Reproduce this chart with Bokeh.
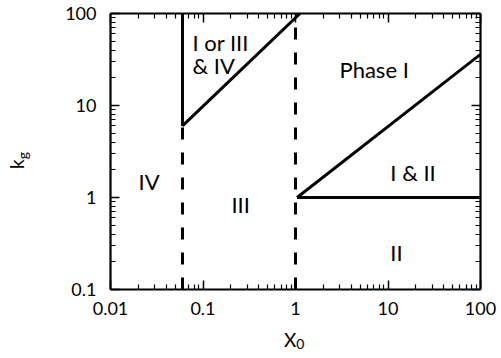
from bokeh.plotting import figure
from bokeh.models import LogAxis, FixedTicker, Range1d, Div
from bokeh.layouts import row, column
from bokeh.core.properties import value
from bokeh.embed import file_html
from bokeh.resources import INLINE

# ---- data ----
x_ticks = [0.01, 0.1, 1, 10, 100]
x_tick_labels = ["0.01", "0.1", "1", "10", "100"]
y_ticks = [0.1, 1, 10, 100]
y_tick_labels = ["0.1", "1", "10", "100"]

solid_vert_x = [0.06, 0.06]
solid_vert_y = [6, 100]
diag_upper_x = [0.06, 1.12]
diag_upper_y = [6, 100]
dash_left_x = [0.06, 0.06]
dash_left_y = [0.1, 6]
dash_right_x = [1, 1]
dash_right_y = [0.1, 100]
horiz_x = [1.04, 100]
horiz_y = [1, 1]
diag_lower_x = [1.04, 100]
diag_lower_y = [1, 36]

region_labels = ["I or III", "& IV", "Phase I", "I & II", "II", "IV", "III"]
region_x = [0.077, 0.077, 2.99, 10.6, 10.6, 0.0201, 0.203]
region_y = [48.4, 27.2, 24.6, 1.87, 0.252, 1.49, 0.84]

x_label_main, x_label_sub = "X", "0"
y_label_main, y_label_sub = "k", "g"

x_minor = [m * 10.0 ** e for e in range(-2, 2) for m in range(2, 10)]
y_minor = [m * 10.0 ** e for e in range(-1, 2) for m in range(2, 10)]

FONT = "Lato"

p = figure(x_axis_type="log", y_axis_type="log",
           x_range=Range1d(0.01, 100), y_range=Range1d(0.1, 100),
           frame_width=370, frame_height=276,
           min_border_left=70, min_border_right=20,
           min_border_top=13, min_border_bottom=41,
           output_backend="svg", toolbar_location=None)
p.grid.visible = False
p.outline_line_color = None
p.background_fill_color = "white"
p.border_fill_color = "white"


def style_axis(ax, ticks, minor, labels, show_labels, standoff):
    ax.ticker = FixedTicker(ticks=ticks, minor_ticks=minor)
    ax.major_label_overrides = dict(zip(ticks, labels if show_labels else [""] * len(ticks)))
    ax.major_tick_in = 9
    ax.major_tick_out = 0
    ax.minor_tick_in = 5
    ax.minor_tick_out = 0
    ax.major_tick_line_width = 1.5
    ax.minor_tick_line_width = 1.2
    ax.major_tick_line_color = "black"
    ax.minor_tick_line_color = "black"
    ax.axis_line_width = 2.2
    ax.axis_line_color = "black"
    ax.major_label_text_font = FONT
    ax.major_label_text_color = "black"
    if show_labels:
        ax.major_label_text_font_size = "18px"
        ax.major_label_standoff = standoff
    else:
        ax.major_label_text_font_size = "0px"
        ax.major_label_standoff = 0


style_axis(p.xaxis[0], x_ticks, x_minor, x_tick_labels, True, 12)
style_axis(p.yaxis[0], y_ticks, y_minor, y_tick_labels, True, 14)

top_axis = LogAxis()
style_axis(top_axis, x_ticks, x_minor, x_tick_labels, False, 0)
p.add_layout(top_axis, "above")
right_axis = LogAxis()
style_axis(right_axis, y_ticks, y_minor, y_tick_labels, False, 0)
p.add_layout(right_axis, "right")

# boundary lines
p.line(dash_left_x, dash_left_y, line_width=3, color="black", line_dash="12 13")
p.line(dash_right_x, dash_right_y, line_width=3, color="black", line_dash="12 13")
p.line(solid_vert_x, solid_vert_y, line_width=3, color="black")
p.line(diag_upper_x, diag_upper_y, line_width=3, color="black")
p.line(horiz_x, horiz_y, line_width=3, color="black")
p.line(diag_lower_x, diag_lower_y, line_width=3, color="black")

# region labels
p.text(x=region_x, y=region_y, text=region_labels,
       text_font=value(FONT), text_font_size="22px", text_color="black",
       text_align="left", text_baseline="alphabetic")

# axis titles with subscripts (HTML, real text)
base_css = ("font-family:Lato; font-size:19px; line-height:19px; color:black; "
            "white-space:nowrap; width:max-content;")
sub_css = "font-size:14px; position:relative; top:%dpx; margin-left:0px;"

ydiv = Div(
    text=('<div style="%s transform: translate(7px, 169px) rotate(-90deg); '
          'transform-origin: 0 0;">%s<span style="%s">%s</span></div>'
          % (base_css, y_label_main, sub_css % 4, y_label_sub)),
    width=40, height=330, margin=(0, 0, 0, 0))

xdiv = Div(
    text=('<div style="%s padding-left:244px;">%s<span style="%s">%s</span></div>'
          % (base_css, x_label_main, sub_css % 2, x_label_sub)),
    width=460, height=27, margin=(0, 0, 0, 0))

layout = row(ydiv, column(p, xdiv, spacing=0), spacing=0)

open("out.html", "w").write(file_html(layout, INLINE))
